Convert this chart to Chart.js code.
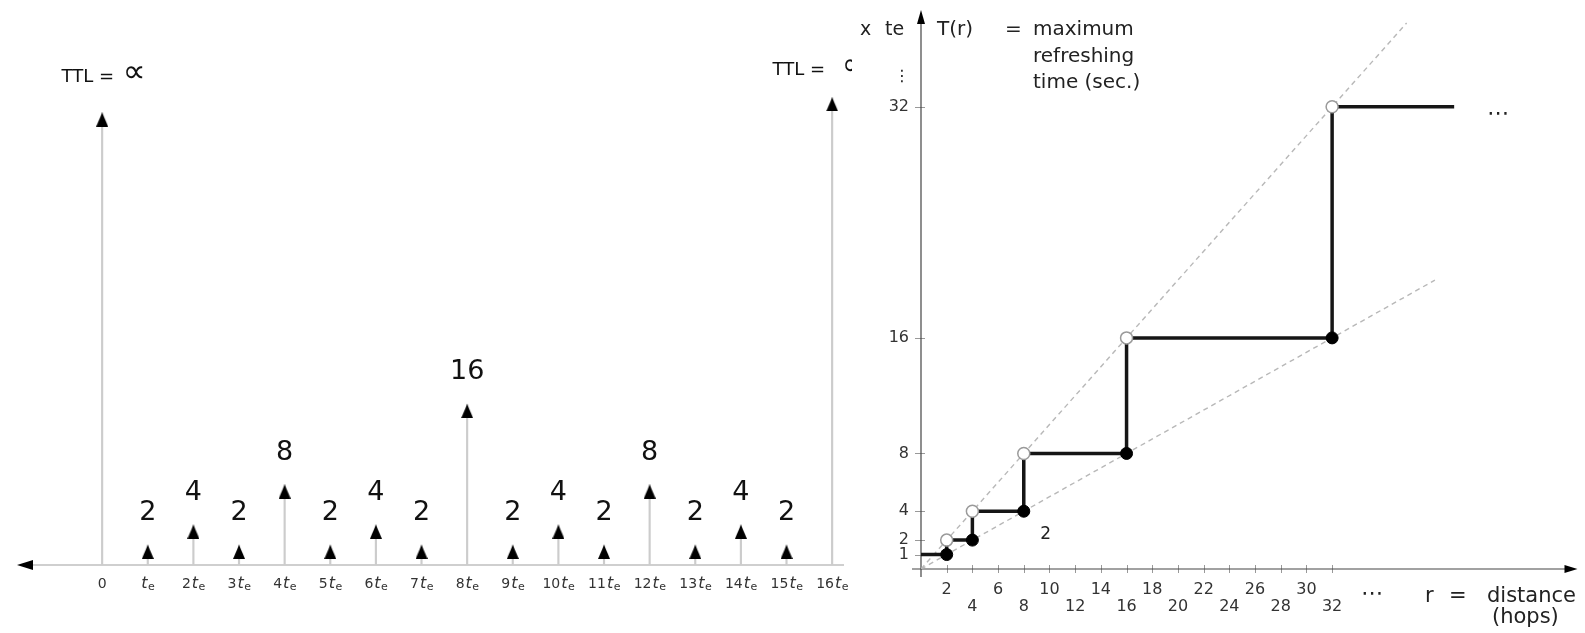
<!DOCTYPE html>
<html><head><meta charset="utf-8">
<script src="https://cdn.jsdelivr.net/npm/chart.js@4.4.1/dist/chart.umd.min.js"></script>
<style>
html,body{margin:0;padding:0;background:#fff;width:1585px;height:633px;overflow:hidden}
#left{position:absolute;left:0;top:0}
#right{position:absolute;left:852px;top:0}
</style></head><body>
<canvas id="left" width="852" height="633"></canvas>
<canvas id="right" width="733" height="633"></canvas>
<script>
// ---------- Left panel data ----------
const slotPositions = [0,1,2,3,4,5,6,7,8,9,10,11,12,13,14,15,16];
const slotTickLabels = ['0','t_e','2t_e','3t_e','4t_e','5t_e','6t_e','7t_e','8t_e','9t_e','10t_e','11t_e','12t_e','13t_e','14t_e','15t_e','16t_e'];
const ttlValues = [45.0,2,4,2,8,2,4,2,16,2,4,2,8,2,4,2,46.5];
const ttlLabels = ['TTL = ∝','2','4','2','8','2','4','2','16','2','4','2','8','2','4','2','TTL = ∝'];

// ---------- Right panel data ----------
const stepHops = [0,2,2,4,4,8,8,16,16,32,32,41.5];
const stepTime = [1,1,2,2,4,4,8,8,16,16,32,32];
const closedHops = [2,4,8,16,32];
const closedTime = [1,2,4,8,16];
const openHops = [2,4,8,16,32];
const openTime = [2,4,8,16,32];
const upperBoundHops = [0,37.8];
const upperBoundTime = [0,37.8];
const lowerBoundHops = [0,40];
const lowerBoundTime = [0,20];
const yTickValues = [1,2,4,8,16,32];
const xTickValues = [2,4,6,8,10,12,14,16,18,20,22,24,26,28,30,32];

const FONT = "'DejaVu Sans'";
const pts = (xs, ys) => xs.map((x, i) => ({x, y: ys[i]}));

// arrowhead image: apex at image centre, triangle below it
const arrowImg = document.createElement('canvas');
arrowImg.width = 12; arrowImg.height = 28;
(function(){
  const g = arrowImg.getContext('2d');
  g.fillStyle = '#000';
  g.beginPath(); g.moveTo(6,14); g.lineTo(12,28); g.lineTo(0,28); g.closePath(); g.fill();
})();

function drawTe(ctx, label, cx, cy){
  ctx.fillStyle = '#333';
  ctx.textBaseline = 'alphabetic';
  if (label.indexOf('t_e') < 0){
    ctx.font = '14px ' + FONT; ctx.textAlign = 'center';
    ctx.fillText(label, cx, cy); return;
  }
  const num = label.split('t_e')[0];
  const fNum = '14px ' + FONT, fT = 'italic 16px ' + FONT, fE = '11px ' + FONT;
  ctx.font = fNum; const wN = num ? ctx.measureText(num).width + 1 : 0;
  ctx.font = fT; const wT = ctx.measureText('t').width;
  ctx.font = fE; const wE = ctx.measureText('e').width;
  let x = cx - (wN + wT + wE) / 2;
  ctx.textAlign = 'left';
  if (num){ ctx.font = fNum; ctx.fillText(num, x, cy); x += wN; }
  ctx.font = fT; ctx.fillText('t', x, cy); x += wT + 0.5;
  ctx.font = fE; ctx.fillText('e', x, cy + 1.5);
}

const leftDecor = {
  id: 'leftDecor',
  beforeDatasetsDraw(chart){
    const {ctx, chartArea, scales:{x, y}} = chart;
    const y0 = y.getPixelForValue(0);
    ctx.save();
    ctx.strokeStyle = '#cfcfcf'; ctx.lineWidth = 2;
    ctx.beginPath(); ctx.moveTo(25, y0); ctx.lineTo(chartArea.right, y0); ctx.stroke();
    ctx.fillStyle = '#000';
    ctx.beginPath(); ctx.moveTo(17, y0); ctx.lineTo(33, y0 - 5); ctx.lineTo(33, y0 + 5); ctx.closePath(); ctx.fill();
    ctx.restore();
  },
  afterDatasetsDraw(chart){
    const {ctx, scales:{x, y}} = chart;
    const y0 = y.getPixelForValue(0);
    ctx.save();
    slotPositions.forEach((p, i) => {
      const px = x.getPixelForValue(p);
      const tip = y.getPixelForValue(ttlValues[i]);
      const lab = ttlLabels[i];
      ctx.fillStyle = '#111';
      ctx.textBaseline = 'middle';
      if (lab.startsWith('TTL')){
        const a = 'TTL = ', b = '∝';
        const first = i === 0;
        ctx.font = '18px ' + FONT; const wa = ctx.measureText(a).width;
        ctx.font = '32px ' + FONT; const wb = ctx.measureText(b).width;
        const sx = px - (wa + wb) / 2 + (first ? 0 : -19);
        const gap = first ? 3 : 11;
        const dy = first ? 35 : 27;
        ctx.textAlign = 'left';
        ctx.font = '18px ' + FONT; ctx.fillText(a, sx, tip - dy);
        ctx.font = '32px ' + FONT; ctx.fillText(b, sx + wa + gap, tip - dy - 4);
      } else {
        ctx.font = '27px ' + FONT; ctx.textAlign = 'center';
        ctx.fillText(lab, px, tip - 32);
      }
      drawTe(ctx, slotTickLabels[i], px, y0 + 23);
    });
    ctx.restore();
  }
};

new Chart(document.getElementById('left'), {
  type: 'scatter',
  data: { datasets: [
    { type: 'bar', data: pts(slotPositions, ttlValues), backgroundColor: '#cccccc', barThickness: 1.5, order: 2 },
    { type: 'scatter', data: pts(slotPositions, ttlValues), pointStyle: arrowImg, pointRadius: 7, order: 1 }
  ]},
  options: {
    responsive: false, animation: false, events: [],
    layout: { padding: { left: 15, right: 0, top: 0, bottom: 68 } },
    plugins: { legend: { display: false }, tooltip: { enabled: false } },
    scales: {
      x: { type: 'linear', min: -1.91, max: 16.26, offset: false, display: false },
      y: { type: 'linear', min: 0, max: 55.4, display: false }
    }
  },
  plugins: [leftDecor]
});

const rightDecor = {
  id: 'rightDecor',
  beforeDatasetsDraw(chart){
    const {ctx, scales:{x, y}} = chart;
    const x0 = x.getPixelForValue(0), y0 = y.getPixelForValue(0);
    ctx.save();
    // tick marks
    ctx.strokeStyle = '#999'; ctx.lineWidth = 1;
    yTickValues.forEach(v => { const py = Math.round(y.getPixelForValue(v)) + 0.5;
      ctx.beginPath(); ctx.moveTo(x0 - 6, py); ctx.lineTo(x0 + 4, py); ctx.stroke(); });
    xTickValues.forEach(v => { const px = Math.round(x.getPixelForValue(v)) + 0.5;
      ctx.beginPath(); ctx.moveTo(px, y0 - 4); ctx.lineTo(px, y0 + 4); ctx.stroke(); });
    // axes
    ctx.strokeStyle = '#444'; ctx.lineWidth = 1.2;
    ctx.beginPath(); ctx.moveTo(x0, y0 + 8); ctx.lineTo(x0, 20); ctx.stroke();
    ctx.beginPath(); ctx.moveTo(x0 - 9, y0); ctx.lineTo(chart.chartArea.right - 10, y0); ctx.stroke();
    ctx.fillStyle = '#000';
    ctx.beginPath(); ctx.moveTo(x0, 10); ctx.lineTo(x0 - 4, 24); ctx.lineTo(x0 + 4, 24); ctx.closePath(); ctx.fill();
    const xr = chart.chartArea.right;
    ctx.beginPath(); ctx.moveTo(xr, y0); ctx.lineTo(xr - 13, y0 - 4); ctx.lineTo(xr - 13, y0 + 4); ctx.closePath(); ctx.fill();
    // tick labels
    ctx.fillStyle = '#333'; ctx.font = '16px ' + FONT; ctx.textBaseline = 'middle';
    ctx.textAlign = 'right';
    yTickValues.forEach(v => ctx.fillText(String(v), x0 - 12, y.getPixelForValue(v)));
    ctx.textAlign = 'center';
    xTickValues.forEach((v, i) => ctx.fillText(String(v), x.getPixelForValue(v), y0 + (i % 2 === 0 ? 21 : 38)));
    // annotations
    ctx.fillStyle = '#222'; ctx.textBaseline = 'alphabetic'; ctx.textAlign = 'left';
    ctx.font = '19px ' + FONT;
    ctx.fillText('x', 8, 35); ctx.fillText('te', 33, 35);
    ctx.font = '16px ' + FONT; ctx.textAlign = 'center'; ctx.textBaseline = 'middle';
    ctx.fillText('⋮', 50, 77);
    ctx.textBaseline = 'alphabetic'; ctx.textAlign = 'left';
    ctx.font = '20px ' + FONT;
    ctx.fillText('T(r)', 85, 35);
    ctx.fillText('=', 153, 35);
    ctx.fillText('maximum', 181, 35);
    ctx.fillText('refreshing', 181, 62);
    ctx.fillText('time (sec.)', 181, 88);
    ctx.font = '17px ' + FONT; ctx.textAlign = 'center'; ctx.textBaseline = 'middle';
    ctx.fillText('2', x.getPixelForValue(9.7), y.getPixelForValue(2.4));
    ctx.font = '22px ' + FONT;
    ctx.fillText('⋯', 646, 114);
    ctx.fillText('⋯', 520, 594);
    ctx.textBaseline = 'alphabetic'; ctx.textAlign = 'left';
    ctx.font = '21px ' + FONT;
    ctx.fillText('r', 573, 602);
    ctx.fillText('=', 597, 602);
    ctx.fillText('distance', 635, 602);
    ctx.fillText('(hops)', 640, 623);
    ctx.restore();
  }
};

new Chart(document.getElementById('right'), {
  type: 'scatter',
  data: { datasets: [
    { type: 'line', data: pts(upperBoundHops, upperBoundTime), showLine: true, borderColor: '#b8b8b8', borderDash: [5,4], borderWidth: 1.4, pointRadius: 0, order: 6 },
    { type: 'line', data: pts(lowerBoundHops, lowerBoundTime), showLine: true, borderColor: '#b8b8b8', borderDash: [5,4], borderWidth: 1.4, pointRadius: 0, order: 5 },
    { type: 'line', data: pts(stepHops, stepTime), showLine: true, borderColor: '#161616', borderWidth: 3.5, pointRadius: 0, tension: 0, borderJoinStyle: 'miter', order: 4 },
    { type: 'scatter', data: pts(openHops, openTime), pointRadius: 6, pointBackgroundColor: '#fff', pointBorderColor: '#9a9a9a', pointBorderWidth: 1.5, order: 2 },
    { type: 'scatter', data: pts(closedHops, closedTime), pointRadius: 6, pointBackgroundColor: '#000', pointBorderColor: '#000', pointBorderWidth: 1, order: 1 }
  ]},
  options: {
    responsive: false, animation: false, events: [],
    layout: { padding: { left: 69, right: 5, top: 10, bottom: 64 } },
    plugins: { legend: { display: false }, tooltip: { enabled: false } },
    scales: {
      x: { type: 'linear', min: 0, max: 51.1, display: false },
      y: { type: 'linear', min: 0, max: 38.7, display: false }
    }
  },
  plugins: [rightDecor]
});
</script>
</body></html>
